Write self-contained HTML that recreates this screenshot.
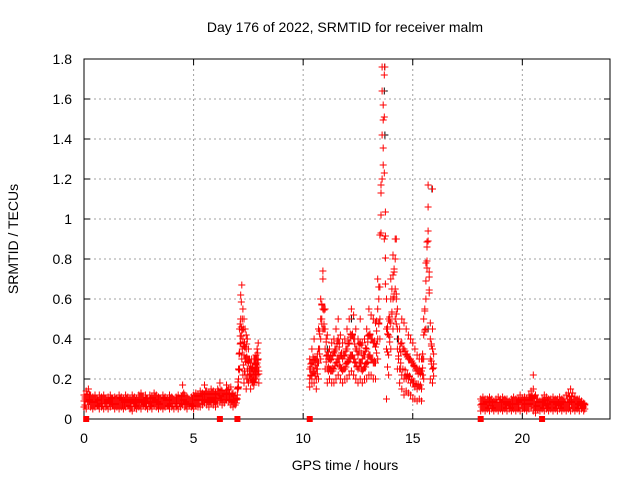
<!DOCTYPE html>
<html><head><meta charset="utf-8"><style>
body{margin:0;background:#fff;}
svg{display:block;font-family:"Liberation Sans",sans-serif;}
</style></head><body>
<svg id="chart" width="640" height="480">
<rect width="640" height="480" fill="#fff"/>
<text x="345" y="32" font-size="14" text-anchor="middle">Day 176 of 2022, SRMTID for receiver malm</text>
<text x="345" y="470" font-size="14" text-anchor="middle">GPS time / hours</text>
<text x="18" y="239" font-size="14" text-anchor="middle" transform="rotate(-90 18 239)">SRMTID / TECUs</text>
<g id="grid"></g><g id="axes"></g><g id="marks"></g>
</svg>
<script>
const xTicks=[0,5,10,15,20];
const yTicks=[0,0.2,0.4,0.6,0.8,1,1.2,1.4,1.6,1.8];
const yTickLabels=["0","0.2","0.4","0.6","0.8","1","1.2","1.4","1.6","1.8"];
// segment A: 0.0..6.9 h, step 0.1
const segAStart=0, segAStep=0.1;
const segALow=[0.06,0.05,0.07,0.06,0.05,0.06,0.07,0.05,0.06,0.05,0.06,0.05,0.06,0.07,0.05,0.06,0.05,0.06,0.05,0.06,0.07,0.05,0.04,0.06,0.05,0.06,0.05,0.07,0.06,0.05,0.06,0.05,0.07,0.06,0.05,0.06,0.05,0.06,0.07,0.05,0.06,0.05,0.06,0.05,0.06,0.07,0.06,0.05,0.07,0.06,0.05,0.07,0.06,0.06,0.07,0.08,0.07,0.06,0.08,0.07,0.06,0.08,0.09,0.07,0.08,0.1,0.09,0.07,0.06,0.07];
const segAHigh=[0.12,0.14,0.15,0.12,0.11,0.12,0.1,0.12,0.11,0.12,0.1,0.11,0.12,0.1,0.11,0.1,0.12,0.11,0.1,0.12,0.11,0.1,0.12,0.11,0.1,0.12,0.13,0.11,0.12,0.1,0.12,0.11,0.13,0.12,0.11,0.1,0.12,0.11,0.1,0.12,0.11,0.1,0.11,0.12,0.1,0.17,0.12,0.11,0.1,0.11,0.12,0.13,0.12,0.14,0.13,0.17,0.14,0.13,0.15,0.14,0.13,0.15,0.18,0.14,0.13,0.17,0.15,0.16,0.13,0.12];
const segAMid=[0.09,0.1,0.11,0.09,0.08,0.09,0.08,0.09,0.08,0.09,0.08,0.09,0.08,0.09,0.08,0.09,0.08,0.09,0.08,0.09,0.08,0.08,0.09,0.08,0.08,0.09,0.1,0.09,0.08,0.09,0.08,0.09,0.1,0.09,0.08,0.09,0.08,0.09,0.08,0.09,0.08,0.09,0.08,0.09,0.08,0.12,0.09,0.08,0.09,0.08,0.09,0.1,0.1,0.11,0.1,0.12,0.11,0.1,0.12,0.11,0.1,0.12,0.13,0.11,0.1,0.13,0.12,0.11,0.09,0.1];
// segment B: 7.0..7.95 h, step 0.05
const segBStart=7.0, segBStep=0.05;
const segB1=[0.15,0.25,0.45,0.62,0.67,0.55,0.5,0.45,0.42,0.4,0.35,0.3,0.28,0.25,0.22,0.3,0.25,0.32,0.35,0.38];
const segB2=[0.12,0.2,0.33,0.5,0.45,0.4,0.32,0.3,0.35,0.25,0.28,0.22,0.2,0.3,0.18,0.22,0.2,0.25,0.28,0.3];
const segB3=[0.1,0.16,0.25,0.38,0.3,0.22,0.18,0.22,0.15,0.2,0.18,0.25,0.15,0.2,0.26,0.17,0.3,0.2,0.22,0.24];
// segment C: 10.3..15.9 h, step 0.1
const segCStart=10.3, segCStep=0.1;
const segC1=[0.3,0.35,0.4,0.3,0.45,0.6,0.74,0.55,0.42,0.35,0.38,0.4,0.45,0.5,0.42,0.38,0.4,0.45,0.5,0.55,0.52,0.45,0.4,0.5,0.38,0.4,0.45,0.55,0.52,0.5,0.48,0.7,0.92,1.76,1.72,0.6,0.5,0.7,0.82,0.9,0.55,0.45,0.5,0.48,0.45,0.42,0.4,0.38,0.35,0.32,0.3,0.3,0.5,0.78,1.17,0.48,0.45];
const segC2=[0.25,0.28,0.3,0.25,0.35,0.5,0.7,0.45,0.32,0.3,0.3,0.33,0.35,0.4,0.32,0.3,0.32,0.35,0.38,0.42,0.4,0.35,0.32,0.38,0.3,0.32,0.35,0.42,0.4,0.38,0.36,0.55,0.66,1.64,1.51,0.45,0.42,0.6,0.72,0.8,0.45,0.35,0.38,0.35,0.32,0.3,0.3,0.28,0.26,0.25,0.25,0.24,0.42,0.69,1.06,0.4,0.35];
const segC3=[0.2,0.22,0.24,0.2,0.28,0.4,0.55,0.35,0.25,0.25,0.24,0.25,0.28,0.3,0.26,0.24,0.25,0.28,0.3,0.32,0.3,0.28,0.25,0.28,0.24,0.26,0.28,0.32,0.3,0.28,0.28,0.4,0.5,1.42,1.23,0.35,0.32,0.48,0.6,0.65,0.35,0.25,0.22,0.2,0.2,0.2,0.18,0.18,0.16,0.15,0.16,0.15,0.3,0.6,0.94,0.3,0.25];
const segC4=[0.16,0.18,0.18,0.15,0.2,0.3,0.45,0.25,0.18,0.2,0.18,0.18,0.2,0.22,0.2,0.18,0.2,0.2,0.22,0.24,0.22,0.2,0.18,0.2,0.18,0.2,0.2,0.22,0.22,0.2,0.2,0.3,0.4,1.2,0.9,0.1,0.22,0.35,0.45,0.5,0.25,0.18,0.15,0.12,0.14,0.13,0.12,0.1,0.1,0.09,0.1,0.09,0.2,0.45,0.89,0.2,0.18];
// segment D: 18.1..22.8 h, step 0.1
const segDStart=18.1, segDStep=0.1;
const segDLow=[0.04,0.05,0.04,0.05,0.04,0.05,0.04,0.05,0.04,0.05,0.04,0.05,0.04,0.05,0.04,0.05,0.04,0.05,0.04,0.05,0.05,0.04,0.05,0.06,0.04,0.03,0.05,0.04,0.05,0.04,0.05,0.04,0.05,0.04,0.05,0.04,0.05,0.04,0.05,0.04,0.05,0.04,0.05,0.04,0.05,0.04,0.05,0.04];
const segDHigh=[0.1,0.11,0.1,0.1,0.11,0.1,0.09,0.1,0.11,0.1,0.11,0.1,0.1,0.09,0.1,0.11,0.1,0.1,0.12,0.1,0.11,0.1,0.12,0.14,0.15,0.12,0.1,0.09,0.1,0.12,0.11,0.1,0.1,0.11,0.1,0.1,0.11,0.1,0.1,0.12,0.13,0.15,0.13,0.11,0.1,0.1,0.09,0.08];
const segDMid=[0.07,0.08,0.07,0.07,0.08,0.07,0.07,0.08,0.07,0.08,0.07,0.07,0.08,0.07,0.07,0.08,0.07,0.08,0.09,0.07,0.08,0.07,0.09,0.1,0.09,0.07,0.08,0.07,0.07,0.08,0.07,0.07,0.08,0.07,0.07,0.08,0.07,0.07,0.08,0.07,0.08,0.09,0.08,0.07,0.07,0.08,0.07,0.06];
const extraTimes=[20.5,13.72,15.9,14.25];
const extraVals=[0.22,1.76,1.15,0.9];
const blackTimes=[13.72,13.7,13.73,15.88,14.3,15.7,12.2,0.05,7.3,11.1];
const blackVals=[1.76,1.64,1.42,1.15,0.4,0.45,0.5,0.07,0.5,0.35];
const squareTimes=[0.1,6.2,7.0,10.3,18.1,20.9];

const X0=84,X1=610,Y0=419,Y1=59,XMAX=24,YMAX=1.8;
const xs=t=>X0+t/XMAX*(X1-X0);
const ys=v=>Y0-v/YMAX*(Y0-Y1);
const NS="http://www.w3.org/2000/svg";
function mk(tag,attrs,parent){const e=document.createElementNS(NS,tag);for(const k in attrs)e.setAttribute(k,attrs[k]);parent.appendChild(e);return e;}
const grid=document.getElementById('grid'),axes=document.getElementById('axes'),marks=document.getElementById('marks');
yTicks.forEach((v,i)=>{
  const y=ys(v);
  if(i>0&&i<yTicks.length-1){const g=mk('line',{x1:X0,x2:X1,y1:y,y2:y,stroke:'#a0a0a0','stroke-dasharray':'2,3'},grid);
  
  }
  mk('line',{x1:X0,x2:X0+6,y1:y,y2:y,stroke:'#000'},axes);
  mk('line',{x1:X1,x2:X1-6,y1:y,y2:y,stroke:'#000'},axes);
  const t=mk('text',{x:X0-12,y:y+5,'font-size':14,'text-anchor':'end'},axes);t.textContent=yTickLabels[i];
  
  
});
xTicks.forEach(v=>{
  const x=xs(v);
  if(v>0){const g=mk('line',{x1:x,x2:x,y1:Y1,y2:Y0,stroke:'#a0a0a0','stroke-dasharray':'2,3'},grid);
  
  }
  mk('line',{x1:x,x2:x,y1:Y0,y2:Y0-6,stroke:'#000'},axes);
  mk('line',{x1:x,x2:x,y1:Y1,y2:Y1+6,stroke:'#000'},axes);
  const t=mk('text',{x:x,y:Y0+24,'font-size':14,'text-anchor':'middle'},axes);t.textContent=String(v);
  
  
});
const frame=mk('rect',{x:X0,y:Y1,width:X1-X0,height:Y0-Y1,fill:'none',stroke:'#000'},axes);


let pathR='',pathK='';
function plus(t,v){const x=xs(t),y=ys(v);return `M${(x-3.5).toFixed(1)} ${y.toFixed(1)}h7M${x.toFixed(1)} ${(y-3.5).toFixed(1)}v7`;}
function seg(start,step,arrs){
  const n=arrs.length;
  arrs.forEach((a,k)=>a.forEach((v,i)=>{
    pathR+=plus(start+i*step,v);
    const other=arrs[(k+2)%n][(i+1)%a.length];
    pathR+=plus(start+i*step+step/2,(v+other)/2);
  }));
}
seg(segAStart,segAStep,[segALow,segAMid,segAHigh]);
seg(segBStart,segBStep,[segB1,segB2,segB3]);
seg(segCStart,segCStep,[segC1,segC2,segC3,segC4]);
seg(segDStart,segDStep,[segDLow,segDMid,segDHigh]);
extraTimes.forEach((t,i)=>pathR+=plus(t,extraVals[i]));
blackTimes.forEach((t,i)=>pathK+=plus(t,blackVals[i]));
const pk=mk('path',{d:pathK,stroke:'#000','stroke-width':1,fill:'none'},marks);


const pr=mk('path',{d:pathR,stroke:'#f00','stroke-width':1,fill:'none'},marks);


squareTimes.forEach(t=>{
  const s=mk('rect',{x:xs(t)-3,y:Y0-3,width:6,height:6,fill:'#f00'},marks);
  
  
});
</script>
</body></html>
